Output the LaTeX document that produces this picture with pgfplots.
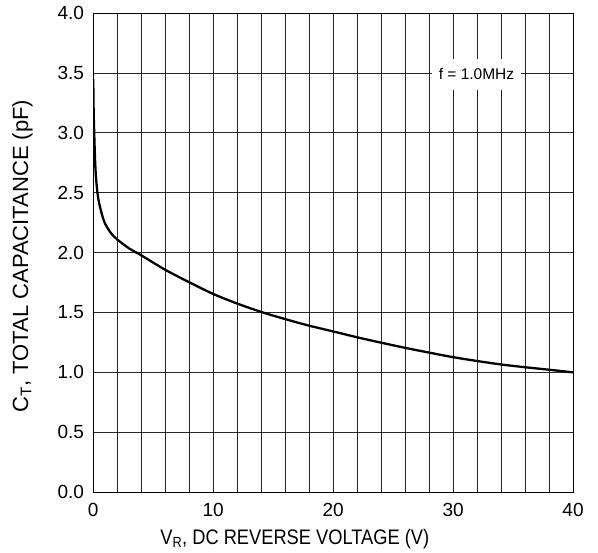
\documentclass[border=0pt]{standalone}
\usepackage{pgfplots}
\pgfplotsset{compat=1.18}
\usepackage{graphicx}
\usepackage{fontspec}
\setmainfont{Liberation Sans}
\begin{document}
\begin{tikzpicture}
\begin{axis}[
 scale only axis, width=480pt, height=479pt,
 xmin=0,xmax=40,ymin=0,ymax=4,
 xtick={0,10,20,30,40},
 minor xtick={2,4,6,8,12,14,16,18,22,24,26,28,32,34,36,38},
 ytick={0,0.5,1,1.5,2,2.5,3,3.5,4},
 yticklabel style={/pgf/number format/fixed,/pgf/number format/fixed zerofill,/pgf/number format/precision=1},
 /pgf/number format/assume math mode=true,
 grid=both,
 major grid style={black!85, line width=1pt},
 minor grid style={black!85, line width=1pt},
 axis line style={black, line width=1pt},
 major tick length=0pt, minor tick length=0pt,
 tick label style={font=\fontsize{19}{19}\selectfont, inner sep=0pt},
 xticklabel style={anchor=north, yshift=-11pt},
 yticklabel style={anchor=east, xshift=-9pt},
 xlabel={\scalebox{0.87}[1]{V\textsubscript{R}, DC REVERSE VOLTAGE (V)}},
 ylabel={C\textsubscript{T}, TOTAL CAPACITANCE (pF)},
 xlabel style={font=\fontsize{21}{21}\selectfont, at={(axis description cs:0.42,-0.109)},anchor=base},
 ylabel style={font=\fontsize{22}{22}\selectfont, at={(axis description cs:-0.136,0.493)},anchor=base},
]
\addplot[black, line width=2.3pt, smooth, tension=0.5] coordinates {
(0,3.45) (0.03,3.2) (0.08,3.0) (0.15,2.78) (0.22,2.64) (0.35,2.5) (0.5,2.41)
(0.75,2.31) (1,2.24) (1.5,2.16) (2,2.11) (3,2.035) (4,1.978) (6,1.857)
(8,1.753) (10,1.655) (12,1.575) (14,1.505) (16,1.445) (18,1.39) (20,1.342)
(22,1.293) (24,1.248) (26,1.205) (28,1.165) (30,1.127) (32,1.095)
(34,1.066) (36,1.043) (38,1.022) (40,1.0)
};
\node[fill=white, font=\fontsize{15.5}{15.5}\selectfont, inner xsep=7pt, inner ysep=10pt] at (axis cs:31.95,3.49) {f = 1.0MHz};
\end{axis}
\path[use as bounding box] ([xshift=-93.3pt,yshift=-60.3pt]current axis.south west) rectangle ([xshift=25pt,yshift=13.3pt]current axis.north east);
\end{tikzpicture}
\end{document}
